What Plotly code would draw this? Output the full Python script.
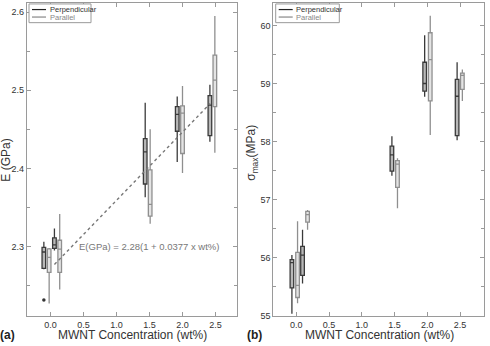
import plotly.graph_objects as go
from plotly.subplots import make_subplots

W, H = 490, 346

# ---------------- data ----------------
# Panel (a): Young's modulus E (GPa); stats = lower whisker, q1, median, q3, upper whisker
e_perp_x = [-0.10, 0.06, 1.435, 1.92, 2.415]
e_perp_lo = [2.271, 2.295, 2.363, 2.408, 2.434]
e_perp_q1 = [2.272, 2.2975, 2.380, 2.4475, 2.442]
e_perp_med = [2.293, 2.302, 2.421, 2.469, 2.481]
e_perp_q3 = [2.299, 2.311, 2.438, 2.479, 2.493]
e_perp_hi = [2.306, 2.323, 2.484, 2.492, 2.507]

e_par_x = [-0.02, 0.14, 1.51, 2.0, 2.49]
e_par_lo = [2.227, 2.245, 2.329, 2.394, 2.420]
e_par_q1 = [2.267, 2.267, 2.339, 2.419, 2.479]
e_par_med = [2.286, 2.2966, 2.354, 2.4706, 2.513]
e_par_q3 = [2.297, 2.308, 2.398, 2.480, 2.545]
e_par_hi = [2.298, 2.3416, 2.450, 2.5055, 2.595]

e_outlier_x = [-0.10]
e_outlier_y = [2.2315]

fit_x = [0.06, 2.42]
fit_y = [2.277, 2.483]
fit_label = "E(GPa) = 2.28(1 + 0.0377 x wt%)"

# Panel (b): sigma_max (MPa)
s_perp_x = [-0.066, 0.096, 1.46, 1.96, 2.455]
s_perp_lo = [55.03, 55.55, 57.41, 58.77, 58.02]
s_perp_q1 = [55.476, 55.69, 57.49, 58.87, 58.10]
s_perp_med = [55.91, 56.04, 57.77, 59.00, 58.78]
s_perp_q3 = [55.963, 56.19, 57.92, 59.366, 59.07]
s_perp_hi = [56.042, 56.48, 58.09, 59.83, 59.366]

s_par_x = [0.02, 0.173, 1.545, 2.045, 2.535]
s_par_lo = [55.21, 56.48, 56.85, 58.11, 58.70]
s_par_q1 = [55.31, 56.61, 57.21, 58.70, 58.90]
s_par_med = [55.52, 56.74, 57.61, 59.41, 59.14]
s_par_q3 = [56.087, 56.795, 57.67, 59.875, 59.18]
s_par_hi = [56.625, 56.82, 57.71, 60.17, 59.24]

x_ticks = [0.0, 0.5, 1.0, 1.5, 2.0, 2.5]
x_ticktext = ["0.0", "0.5", "1.0", "1.5", "2.0", "2.5"]
e_ticks = [2.3, 2.4, 2.5, 2.6]
e_ticktext = ["2.3", "2.4", "2.5", "2.6"]
e_minor = [2.25, 2.35, 2.45, 2.55]
s_ticks = [55, 56, 57, 58, 59, 60]
s_ticktext = ["55", "56", "57", "58", "59", "60"]
s_minor = [55.5, 56.5, 57.5, 58.5, 59.5]
series_names = ["Perpendicular", "Parallel"]

# ---------------- style ----------------
FONT = "Liberation Sans, Arial, sans-serif"
PERP_LINE, PERP_FILL = "#3a3a3a", "#b8b8b8"
PAR_LINE, PAR_FILL = "#8f8f8f", "#e4e4e4"
FRAME = "#9a9a9a"
TXT = "#333333"
BOXW = 0.055


def px(x):
    return x / W


def py(y):
    return 1 - y / H


dom_a = [px(26.7), px(237.3)]
dom_b = [px(273.3), px(484.3)]
dom_y = [py(320.7), py(3.5)]

fig = make_subplots(rows=1, cols=2)


def add_box(col, xs, lo, q1, med, q3, hi, lc, fc, name):
    fig.add_trace(go.Box(
        x=xs, lowerfence=lo, q1=q1, median=med, q3=q3, upperfence=hi,
        width=BOXW, whiskerwidth=0, boxpoints=False,
        line=dict(color=lc, width=1.3), fillcolor=fc, name=name,
        showlegend=False, hoverinfo="skip"), row=1, col=col)


add_box(1, e_perp_x, e_perp_lo, e_perp_q1, e_perp_med, e_perp_q3, e_perp_hi, PERP_LINE, PERP_FILL, series_names[0])
add_box(1, e_par_x, e_par_lo, e_par_q1, e_par_med, e_par_q3, e_par_hi, PAR_LINE, PAR_FILL, series_names[1])
add_box(2, s_perp_x, s_perp_lo, s_perp_q1, s_perp_med, s_perp_q3, s_perp_hi, PERP_LINE, PERP_FILL, series_names[0])
add_box(2, s_par_x, s_par_lo, s_par_q1, s_par_med, s_par_q3, s_par_hi, PAR_LINE, PAR_FILL, series_names[1])

fig.add_trace(go.Scatter(x=e_outlier_x, y=e_outlier_y, mode="markers",
                         marker=dict(color="#333333", size=3.5), showlegend=False), row=1, col=1)
fig.add_trace(go.Scatter(x=fit_x, y=fit_y, mode="lines",
                         line=dict(color="#777777", width=1.4, dash="3px,3px"), showlegend=False), row=1, col=1)

axis_common = dict(showline=True, linecolor=FRAME, linewidth=1, mirror="ticks",
                   ticks="inside", ticklen=4, tickcolor=FRAME, showgrid=False, zeroline=False,
                   tickfont=dict(family=FONT, size=9, color=TXT))

fig.update_xaxes(**axis_common, tickvals=x_ticks, ticktext=x_ticktext, ticklabelstandoff=0)
fig.update_xaxes(range=[-0.36, 2.83], domain=dom_a, row=1, col=1)
fig.update_xaxes(range=[-0.35, 2.87], domain=dom_b, row=1, col=2)
fig.update_yaxes(**axis_common, domain=dom_y)
fig.update_yaxes(range=[2.211, 2.611], tickvals=e_ticks, ticktext=e_ticktext,
                 minor=dict(tickvals=e_minor, ticks="inside", ticklen=3, tickcolor=FRAME, showgrid=False),
                 row=1, col=1)
fig.update_yaxes(range=[54.99, 60.38], tickvals=s_ticks, ticktext=s_ticktext,
                 minor=dict(tickvals=s_minor, ticks="inside", ticklen=3, tickcolor=FRAME, showgrid=False),
                 row=1, col=2)

ann = []
ann.append(dict(x=1.5, y=2.3, xref="x", yref="y", text=fit_label, showarrow=False,
                xanchor="center", yanchor="middle",
                font=dict(family=FONT, size=9.5, color="#777777")))


def pann(x, y, text, size, color=TXT, angle=0, xanchor="center"):
    ann.append(dict(x=px(x), y=py(y), xref="paper", yref="paper", text=text, showarrow=False,
                    xanchor=xanchor, yanchor="middle", textangle=angle,
                    font=dict(family=FONT, size=size, color=color)))


# axis titles
pann(132, 339.5, "MWNT Concentration (wt%)", 12)
pann(379, 339.5, "MWNT Concentration (wt%)", 12)
pann(6, 163, "E (GPa)", 12, angle=-90)
pann(252, 155, "σ<sub>max</sub>(MPa)", 12, angle=-90)
pann(7, 339.5, "<b>(a)</b>", 12, color="#222222")
pann(254, 339.5, "<b>(b)</b>", 12, color="#222222")

shapes = []
# manual legends
for (bx0, bx1) in [(29, 91), (275.7, 339.3)]:
    shapes.append(dict(type="rect", xref="paper", yref="paper", x0=px(bx0), x1=px(bx1),
                       y0=py(23), y1=py(4), line=dict(color="#9a9a9a", width=1), fillcolor="white",
                       layer="above"))
    for i, (nm, col, tcol) in enumerate([(series_names[0], "#222222", "#333333"),
                                          (series_names[1], "#888888", "#888888")]):
        yy = 9.7 + i * 7.6
        shapes.append(dict(type="line", xref="paper", yref="paper", x0=px(bx0 + 3), x1=px(bx0 + 17),
                           y0=py(yy), y1=py(yy), line=dict(color=col, width=1.2)))
        pann(bx0 + 18.5, yy, nm, 7.5, color=tcol, xanchor="left")

fig.update_layout(width=W, height=H, margin=dict(l=0, r=0, t=0, b=0),
                  paper_bgcolor="white", plot_bgcolor="white", boxmode="overlay",
                  showlegend=False, annotations=ann, shapes=shapes,
                  font=dict(family=FONT, color=TXT))

fig.write_html("out.html")
